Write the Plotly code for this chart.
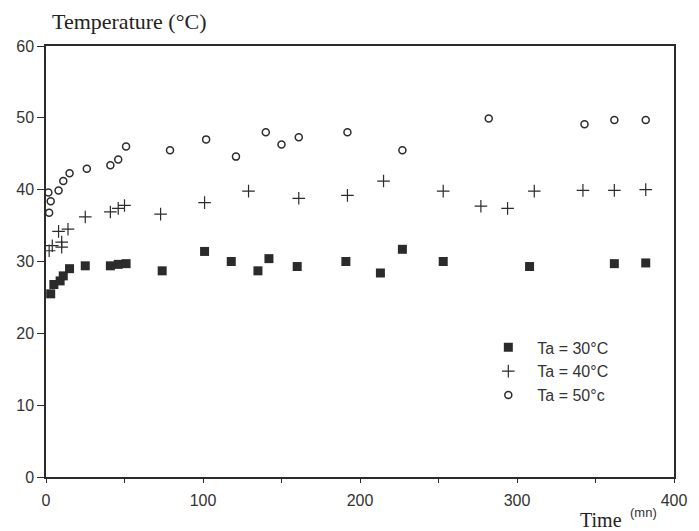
import plotly.graph_objects as go

# Surface temperature vs. time for three ambient temperatures
t30 = [3, 5, 9, 11, 15, 25, 41, 46, 51, 74, 101, 118, 135, 142, 160, 191, 213, 227, 253, 308, 362, 382]
T30 = [25.5, 26.8, 27.3, 28.0, 29.0, 29.4, 29.4, 29.6, 29.7, 28.7, 31.4, 30.0, 28.7, 30.4, 29.3, 30.0, 28.4, 31.7, 30.0, 29.3, 29.7, 29.8]

t40 = [2, 4, 10, 10, 8, 14, 25, 41, 46, 50, 73, 101, 129, 161, 192, 215, 253, 277, 294, 311, 342, 362, 382]
T40 = [31.5, 32.2, 32.7, 32.0, 34.2, 34.5, 36.2, 36.9, 37.4, 37.8, 36.6, 38.2, 39.8, 38.8, 39.2, 41.2, 39.8, 37.7, 37.4, 39.8, 39.9, 39.9, 40.0]

t50 = [2, 3, 1.5, 8, 11, 15, 26, 41, 46, 51, 79, 102, 121, 140, 150, 161, 192, 227, 282, 343, 362, 382]
T50 = [36.8, 38.4, 39.6, 39.9, 41.2, 42.3, 42.9, 43.4, 44.2, 46.0, 45.5, 47.0, 44.6, 48.0, 46.3, 47.3, 48.0, 45.5, 49.9, 49.1, 49.7, 49.7]

names = ["Ta = 30°C", "Ta = 40°C", "Ta = 50°c"]

ink = "#2b2b2b"
sans = "Liberation Sans, Arial, sans-serif"
serif = "Liberation Serif, Times New Roman, serif"

fig = go.Figure()
fig.add_trace(go.Scatter(x=t30, y=T30, mode="markers", name=names[0],
                         marker=dict(symbol="square", size=9, color=ink)))
fig.add_trace(go.Scatter(x=t40, y=T40, mode="markers", name=names[1],
                         marker=dict(symbol="cross-thin-open", size=9, color=ink,
                                     line=dict(width=1.2, color=ink))))
fig.add_trace(go.Scatter(x=t50, y=T50, mode="markers", name=names[2],
                         marker=dict(symbol="circle-open", size=7, color=ink,
                                     line=dict(width=1.5, color=ink))))

axis_font = dict(family=sans, size=16, color="#333")
fig.update_xaxes(range=[0, 400], tickmode="array",
                 tickvals=[0, 50, 100, 150, 200, 250, 300, 350, 400],
                 ticktext=["0", "", "100", "", "200", "", "300", "", "400"],
                 ticks="outside", ticklen=4, tickcolor=ink, tickwidth=1,
                 showline=True, mirror=True, linecolor=ink, linewidth=1.5,
                 showgrid=False, zeroline=False, tickfont=axis_font,
                 ticklabelstandoff=4)
fig.update_yaxes(range=[0, 60], dtick=10, ticks="outside", ticklen=7,
                 tickcolor=ink, tickwidth=1,
                 showline=True, mirror=True, linecolor=ink, linewidth=1.5,
                 showgrid=False, zeroline=False, tickfont=axis_font)

fig.add_annotation(text="Temperature (°C)", xref="paper", yref="paper",
                   x=0.006, y=1.056, xanchor="left", yanchor="middle",
                   showarrow=False, font=dict(family=serif, size=22, color="#222"))
fig.add_annotation(text="Time", xref="paper", yref="paper",
                   x=0.883, y=-0.1, xanchor="center", yanchor="middle",
                   showarrow=False, font=dict(family=serif, size=20, color="#222"))
fig.add_annotation(text="(mn)", xref="paper", yref="paper",
                   x=0.951, y=-0.083, xanchor="center", yanchor="middle",
                   showarrow=False, font=dict(family=sans, size=13, color="#333"))

fig.update_layout(
    width=699, height=531,
    margin=dict(l=46, r=12, t=46, b=54),
    plot_bgcolor="white", paper_bgcolor="white",
    showlegend=True,
    legend=dict(x=0.69, y=0.34, xanchor="left", yanchor="top",
                bgcolor="rgba(0,0,0,0)", font=dict(family=sans, size=16, color="#333"),
                itemwidth=48, tracegroupgap=0),
)

fig.write_html("out.html")
